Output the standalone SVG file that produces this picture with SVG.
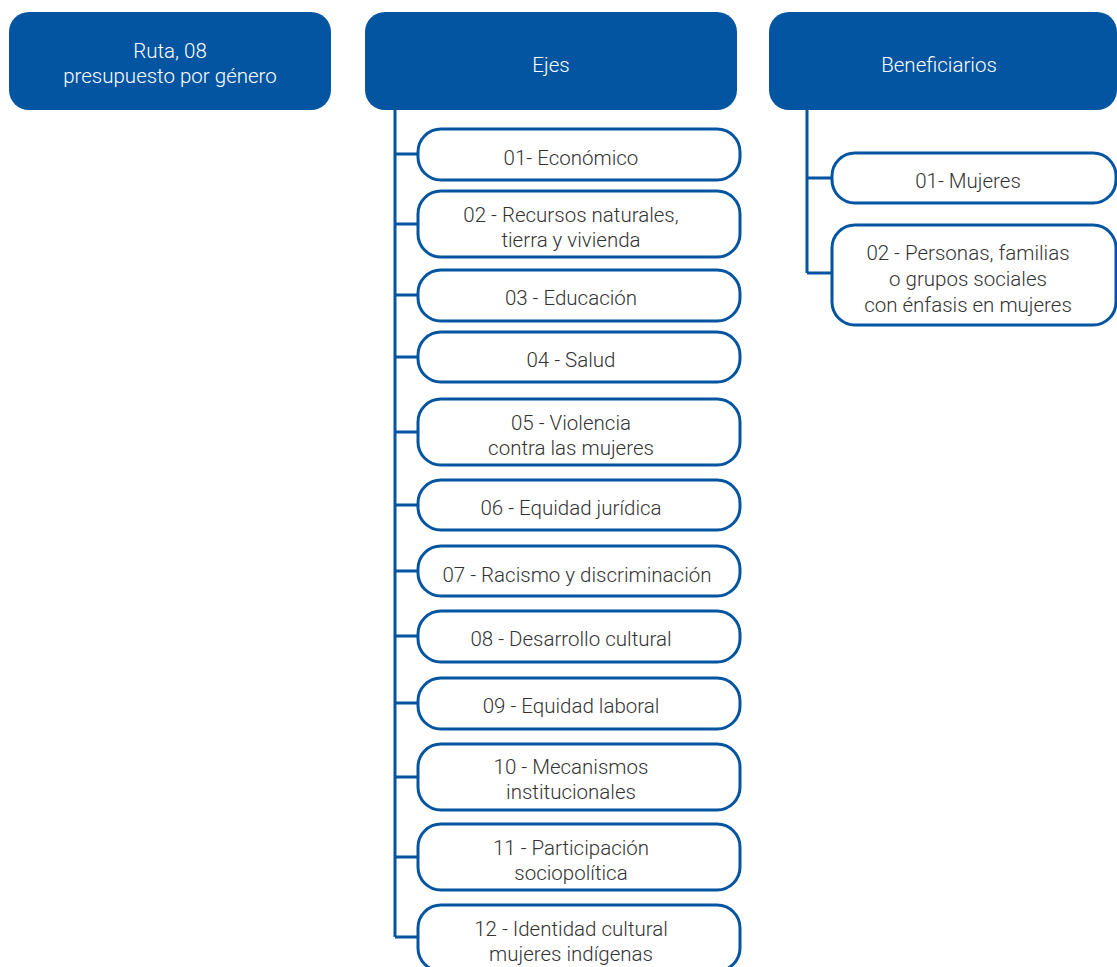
<svg xmlns="http://www.w3.org/2000/svg" width="1117" height="967" viewBox="0 0 1117 967">
<style>
.hdr{fill:#0455a1;}
.hdrt{fill:#ffffff;font-family:Roboto,"Liberation Sans",sans-serif;font-weight:300;font-size:20.5px;text-anchor:middle;}
.box{fill:#ffffff;stroke:#0455a1;stroke-width:3;}
.t{fill:#333333;font-family:Roboto,"Liberation Sans",sans-serif;font-weight:300;font-size:20.5px;text-anchor:middle;}
.c{fill:none;stroke:#0455a1;stroke-width:3;}
</style>
<rect width="1117" height="967" fill="#ffffff"/>
<g id="connectors">
<path class="c" d="M395 109 V937 M395 154 H418 M395 224 H418 M395 295 H418 M395 357 H418 M395 432 H418 M395 505 H418 M395 571 H418 M395 636 H418 M395 703 H418 M395 777 H418 M395 857 H418 M395 937 H418"/>
<path class="c" d="M807 109 V273 M807 178 H832 M807 273 H832"/>
</g>
<g id="n-ruta"><rect class="hdr" x="9" y="12" width="322" height="98" rx="20"/><text class="hdrt" x="170" y="58">Ruta, 08</text><text class="hdrt" x="170" y="83">presupuesto por género</text></g>
<g id="n-ejes"><rect class="hdr" x="365" y="12" width="372" height="98" rx="20"/><text class="hdrt" x="551" y="72">Ejes</text></g>
<g id="n-benef"><rect class="hdr" x="769" y="12" width="348" height="98" rx="20"/><text class="hdrt" x="939" y="72">Beneficiarios</text></g>
<g id="n-e01"><rect class="box" x="418" y="129" width="322" height="51" rx="23"/><text class="t" x="571" y="165">01- Económico</text></g>
<g id="n-e02"><rect class="box" x="418" y="191" width="322" height="66" rx="23"/><text class="t" x="571" y="222">02 - Recursos naturales,</text><text class="t" x="571" y="247">tierra y vivienda</text></g>
<g id="n-e03"><rect class="box" x="418" y="270" width="322" height="51" rx="23"/><text class="t" x="571" y="305">03 - Educación</text></g>
<g id="n-e04"><rect class="box" x="418" y="332" width="322" height="50" rx="23"/><text class="t" x="571" y="367">04 - Salud</text></g>
<g id="n-e05"><rect class="box" x="418" y="399" width="322" height="66" rx="23"/><text class="t" x="571" y="430">05 - Violencia</text><text class="t" x="571" y="455">contra las mujeres</text></g>
<g id="n-e06"><rect class="box" x="418" y="480" width="322" height="50" rx="23"/><text class="t" x="571" y="515">06 - Equidad jurídica</text></g>
<g id="n-e07"><rect class="box" x="418" y="546" width="322" height="50" rx="23"/><text class="t" x="577" y="582">07 - Racismo y discriminación</text></g>
<g id="n-e08"><rect class="box" x="418" y="611" width="322" height="51" rx="23"/><text class="t" x="571" y="646">08 - Desarrollo cultural</text></g>
<g id="n-e09"><rect class="box" x="418" y="678" width="322" height="51" rx="23"/><text class="t" x="571" y="713">09 - Equidad laboral</text></g>
<g id="n-e10"><rect class="box" x="418" y="744" width="322" height="66" rx="23"/><text class="t" x="571" y="774">10 - Mecanismos</text><text class="t" x="571" y="799">institucionales</text></g>
<g id="n-e11"><rect class="box" x="418" y="824" width="322" height="66" rx="23"/><text class="t" x="571" y="855">11 - Participación</text><text class="t" x="571" y="880">sociopolítica</text></g>
<g id="n-e12"><rect class="box" x="418" y="905" width="322" height="66" rx="23"/><text class="t" x="571" y="936">12 - Identidad cultural</text><text class="t" x="571" y="961">mujeres indígenas</text></g>
<g id="n-b01"><rect class="box" x="832" y="153" width="284" height="50" rx="23"/><text class="t" x="968" y="188">01- Mujeres</text></g>
<g id="n-b02"><rect class="box" x="832" y="225" width="284" height="100" rx="23"/><text class="t" x="968" y="260">02 - Personas, familias</text><text class="t" x="968" y="286">o grupos sociales</text><text class="t" x="968" y="312">con énfasis en mujeres</text></g>
</svg>
